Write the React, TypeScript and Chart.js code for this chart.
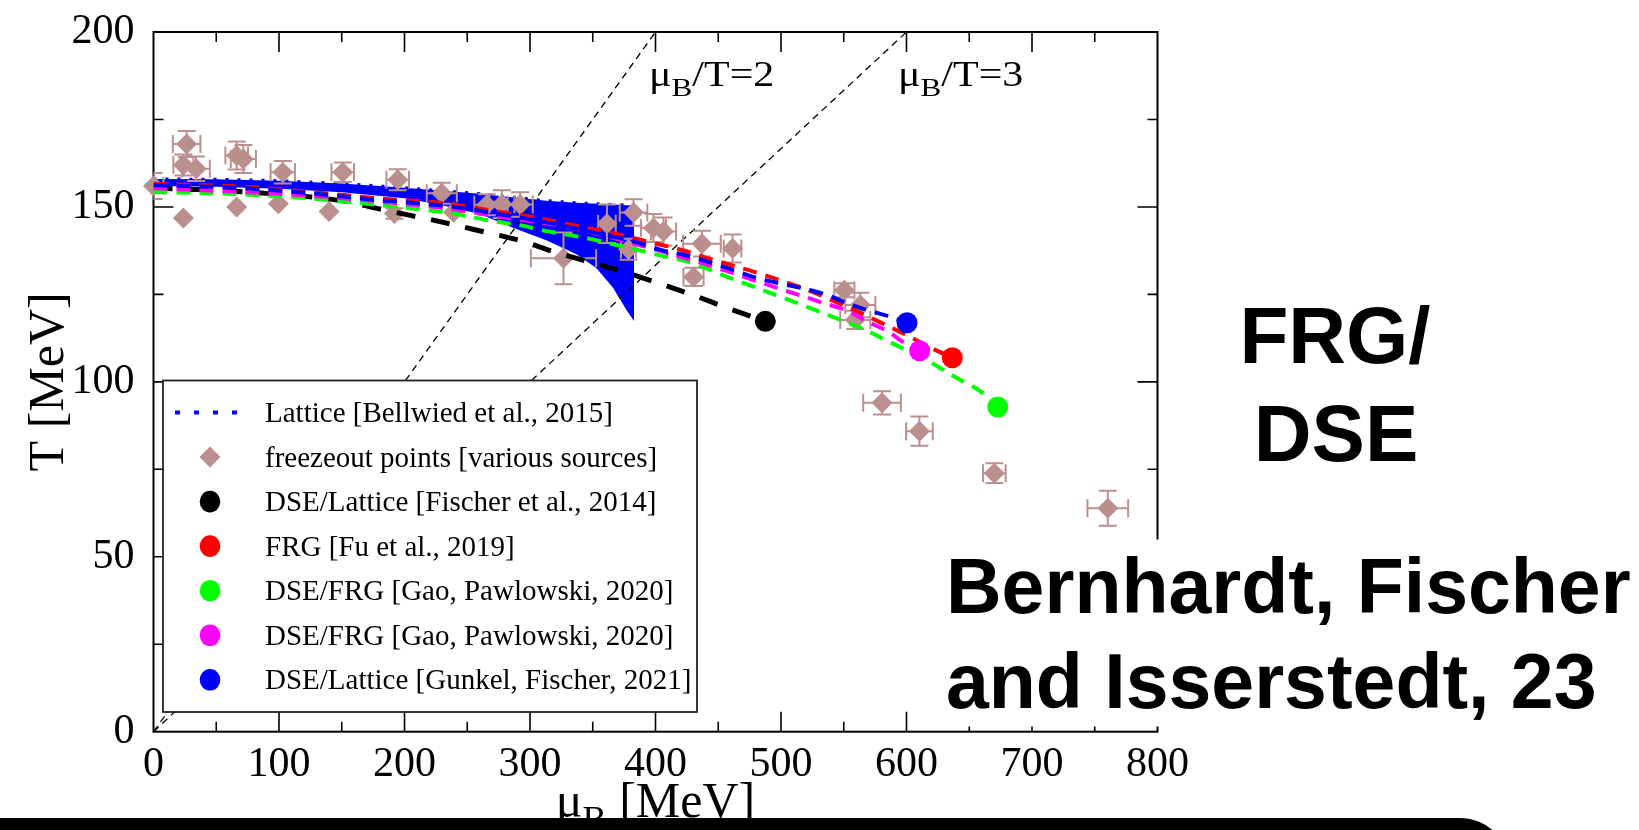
import React, { useEffect, useRef } from 'react';
import { Chart, registerables } from 'chart.js';

Chart.register(...registerables);

const W = 1639;
const H = 830;

// ---------- data ----------
// Lattice band [Bellwied et al., 2015]
const bandMu = [0, 50, 100, 150, 200, 230, 260, 287, 313, 337, 353, 366, 377, 383];
const bandUpper = [158.0, 157.9, 157.5, 156.7, 155.5, 154.6, 153.8, 152.7, 151.8, 151.2, 150.9, 150.7, 150.5, 150.4];
const bandLower = [156.0, 155.8, 155.2, 154.2, 152.5, 150.5, 148.0, 144.0, 140.5, 136.5, 132.5, 127.0, 120.5, 117.3];

// DSE/Lattice [Fischer et al., 2014]
const fischerMu = [0, 32, 92, 153, 179, 236, 263, 291, 319, 374, 430, 458, 487.5];
const fischerT = [155.4, 155.0, 153.8, 151.6, 149.5, 145.2, 142.9, 140.5, 137.2, 131.5, 124.8, 121.0, 117.3];

// FRG [Fu et al., 2019]
const fuMu = [0, 64, 122, 178, 235, 274, 310, 329, 349, 368, 387, 405, 424, 442, 460, 478, 518, 537, 567, 586, 600, 619, 636.5];
const fuT = [156.6, 155.9, 154.4, 152.5, 150.9, 148.7, 146.6, 145.2, 143.8, 142.4, 140.7, 139.1, 137.4, 135.3, 133.4, 131.5, 126.7, 123.9, 119.1, 115.8, 113.4, 109.8, 106.9];

// DSE/FRG [Gao, Pawlowski, 2020] (green)
const gaoGreenMu = [0, 24, 64, 122, 178, 235, 271, 292, 310, 329, 349, 368, 387, 405, 424, 442, 460, 478, 496, 534, 551, 567, 583, 602, 620, 640, 659, 672.7];
const gaoGreenT = [154.3, 154.1, 153.7, 152.5, 150.6, 148.3, 145.9, 144.8, 143.3, 142.1, 140.8, 139.2, 137.6, 136.0, 134.5, 132.2, 129.6, 127.2, 124.8, 119.6, 117.2, 114.9, 112.0, 108.7, 105.4, 101.1, 97.3, 92.8];

// DSE/FRG [Gao, Pawlowski, 2020] (magenta)
const gaoMagMu = [0, 24, 64, 122, 178, 235, 290, 310, 349, 387, 424, 442, 478, 494, 535, 553, 569, 585, 599, 610.5];
const gaoMagT = [155.4, 155.0, 154.4, 153.3, 151.6, 149.5, 146.4, 145.5, 142.7, 139.1, 135.3, 133.4, 129.1, 127.2, 122.4, 120.3, 117.2, 114.4, 111.0, 108.9];

// DSE/Lattice [Gunkel, Fischer, 2021]
const gunkelMu = [0, 64, 122, 178, 235, 274, 310, 349, 387, 405, 424, 442, 460, 478, 537, 553, 569, 587, 600.4];
const gunkelT = [156.2, 155.5, 154.0, 152.0, 150.2, 148.0, 145.8, 142.8, 139.7, 137.6, 136.2, 134.3, 132.2, 130.0, 124.8, 122.4, 120.5, 118.6, 116.9];

// critical end points (black, red, green, magenta, blue)
const cepMu = [487.5, 636.5, 672.7, 610.5, 600.4];
const cepT = [117.3, 106.9, 92.8, 108.9, 116.9];
const cepColors = ['#000000', '#ff0000', '#00ff00', '#ff00ff', '#0000ff'];

// freeze-out points
const freezeMu = [0, 26.4, 23.8, 33.9, 23.8, 66.3, 71.6, 66.3, 103, 99.5, 150.8, 139.9, 194.6, 192, 229.7, 239, 265.6, 277.6, 292.2, 326.7, 361.3, 382.5, 378.5, 398.4, 406.4, 437, 461.4, 430.3, 550.5, 563.2, 559.2, 580.5, 610.3, 670, 760.4];
const freezeT = [156, 168, 162, 160.9, 146.8, 164.7, 163.7, 150, 159.9, 150.9, 159.9, 148.7, 157.8, 148.1, 153.9, 148.5, 150.6, 150.8, 150.7, 135.3, 145.2, 148.4, 137.9, 144, 143, 139.5, 138.1, 130, 126.2, 122, 117.7, 94, 85.9, 73.9, 63.9];
const freezeMuErr = [8, 11, 8, 11, 0, 9, 10, 0, 9.7, 0, 9, 0, 9, 0, 12, 0, 10, 10, 10, 26, 7, 11, 6, 10, 10, 15, 7, 8, 8, 12, 12, 15, 10.6, 9, 16.2];
const freezeTErr = [3.7, 3.7, 3, 3.5, 0, 4, 4, 0, 3.2, 0, 2.8, 0, 3, 1.5, 3, 0, 3, 4, 3.5, 7.4, 5.5, 3.8, 3, 4, 4, 3.7, 4, 2.6, 2, 3.5, 2.6, 3.3, 4.2, 2.8, 5];

// μB/T = const reference lines
const ratioValues = [2, 3];

// ticks
const xTickValues = [0, 100, 200, 300, 400, 500, 600, 700, 800];
const yTickValues = [0, 50, 100, 150, 200];
const xMinorStep = 50;
const yMinorStep = 25;

// legend
const legendLabels = [
  'Lattice [Bellwied et al., 2015]',
  'freezeout points [various sources]',
  'DSE/Lattice [Fischer et al., 2014]',
  'FRG [Fu et al., 2019]',
  'DSE/FRG [Gao, Pawlowski, 2020]',
  'DSE/FRG [Gao, Pawlowski, 2020]',
  'DSE/Lattice [Gunkel, Fischer, 2021]',
];
const legendKinds = ['dots', 'diamond', 'circle', 'circle', 'circle', 'circle', 'circle'];
const legendColors = ['#0000ff', '#bc8f8f', '#000000', '#ff0000', '#00ff00', '#ff00ff', '#0000ff'];

const xTitleRest = ' [MeV]';
const yTitle = 'T [MeV]';
const sideTitle = ['FRG/', 'DSE'];
const creditLines = ['Bernhardt, Fischer', 'and Isserstedt, 23'];

// ---------- styles ----------
const FREEZE = '#bc8f8f';
const SERIF = '"Liberation Serif", "Times New Roman", serif';
const SANS = '"Liberation Sans", Arial, sans-serif';

const pts = (xs: number[], ys: number[]) => xs.map((x, i) => ({ x, y: ys[i] }));

function drawMuB(ctx: CanvasRenderingContext2D, x: number, base: number, size: number, sub: number, drop: number, rest: string, measureOnly = false) {
  ctx.font = `${size}px ${SERIF}`;
  const w1 = ctx.measureText('μ').width;
  ctx.font = `${sub}px ${SERIF}`;
  const w2 = ctx.measureText('B').width;
  ctx.font = `${size}px ${SERIF}`;
  const w3 = ctx.measureText(rest).width;
  if (measureOnly) return w1 + w2 + w3;
  ctx.textAlign = 'left';
  ctx.textBaseline = 'alphabetic';
  ctx.font = `${size}px ${SERIF}`;
  ctx.fillText('μ', x, base);
  ctx.font = `${sub}px ${SERIF}`;
  ctx.fillText('B', x + w1, base + drop);
  ctx.font = `${size}px ${SERIF}`;
  ctx.fillText(rest, x + w1 + w2, base);
  return w1 + w2 + w3;
}

const framePlugin = {
  id: 'frameTicks',
  beforeDatasetsDraw(chart: any) {
    const { ctx, chartArea: a, scales } = chart;
    const xs = scales.x;
    const ys = scales.y;
    ctx.save();
    ctx.strokeStyle = '#000';
    ctx.lineWidth = 2;
    ctx.strokeRect(a.left, a.top, a.right - a.left, a.bottom - a.top);
    ctx.lineWidth = 1.6;
    ctx.beginPath();
    for (let v = xMinorStep; v < 800; v += xMinorStep) {
      const p = xs.getPixelForValue(v);
      const len = v % 100 === 0 ? 20 : 10;
      ctx.moveTo(p, a.bottom); ctx.lineTo(p, a.bottom - len);
      ctx.moveTo(p, a.top); ctx.lineTo(p, a.top + len);
    }
    for (let v = yMinorStep; v < 200; v += yMinorStep) {
      const p = ys.getPixelForValue(v);
      const len = v % 50 === 0 ? 20 : 10;
      ctx.moveTo(a.left, p); ctx.lineTo(a.left + len, p);
      ctx.moveTo(a.right, p); ctx.lineTo(a.right - len, p);
    }
    ctx.stroke();
    ctx.restore();
  },
  beforeDatasetDraw(chart: any, args: any) {
    const ds = chart.data.datasets[args.index];
    if (ds.label !== legendLabels[1]) return;
    const { ctx, chartArea: a, scales } = chart;
    const xs = scales.x;
    const ys = scales.y;
    ctx.save();
    ctx.beginPath();
    ctx.rect(a.left, a.top, a.right - a.left, a.bottom - a.top);
    ctx.clip();
    ctx.strokeStyle = FREEZE;
    ctx.lineWidth = 2;
    const cap = 9;
    ctx.beginPath();
    freezeMu.forEach((m, i) => {
      const px = xs.getPixelForValue(m);
      const py = ys.getPixelForValue(freezeT[i]);
      const dm = freezeMuErr[i];
      const dt = freezeTErr[i];
      if (dm > 0) {
        const x1 = xs.getPixelForValue(m - dm);
        const x2 = xs.getPixelForValue(m + dm);
        ctx.moveTo(x1, py); ctx.lineTo(x2, py);
        ctx.moveTo(x1, py - cap); ctx.lineTo(x1, py + cap);
        ctx.moveTo(x2, py - cap); ctx.lineTo(x2, py + cap);
      }
      if (dt > 0) {
        const y1 = ys.getPixelForValue(freezeT[i] - dt);
        const y2 = ys.getPixelForValue(freezeT[i] + dt);
        ctx.moveTo(px, y1); ctx.lineTo(px, y2);
        ctx.moveTo(px - cap, y1); ctx.lineTo(px + cap, y1);
        ctx.moveTo(px - cap, y2); ctx.lineTo(px + cap, y2);
      }
    });
    ctx.stroke();
    ctx.restore();
  },
  afterDatasetsDraw(chart: any) {
    const { ctx } = chart;
    // legend box
    const L = 163, T = 380.5, R = 697, B = 712;
    ctx.save();
    ctx.fillStyle = '#fff';
    ctx.fillRect(L, T, R - L, B - T);
    ctx.strokeStyle = '#222';
    ctx.lineWidth = 1.8;
    ctx.strokeRect(L, T, R - L, B - T);
    const row0 = 412.5;
    const step = 44.55;
    legendLabels.forEach((lab, i) => {
      const cy = row0 + i * step;
      const col = legendColors[i];
      const kind = legendKinds[i];
      if (kind === 'dots') {
        ctx.strokeStyle = col;
        ctx.lineWidth = 4;
        ctx.setLineDash([5, 14]);
        ctx.beginPath();
        ctx.moveTo(175, cy); ctx.lineTo(238, cy);
        ctx.stroke();
        ctx.setLineDash([]);
      } else if (kind === 'diamond') {
        ctx.fillStyle = col;
        ctx.beginPath();
        ctx.moveTo(210, cy - 10.5); ctx.lineTo(220.5, cy); ctx.lineTo(210, cy + 10.5); ctx.lineTo(199.5, cy);
        ctx.closePath();
        ctx.fill();
      } else {
        ctx.fillStyle = col;
        ctx.beginPath();
        ctx.ellipse(210, cy, 10.3, 10.8, 0, 0, Math.PI * 2);
        ctx.fill();
      }
      ctx.fillStyle = '#000';
      ctx.font = `29px ${SERIF}`;
      ctx.textAlign = 'left';
      ctx.textBaseline = 'alphabetic';
      ctx.fillText(lab, 265, cy + 9.5);
    });
    ctx.restore();
  },
  afterDraw(chart: any) {
    const { ctx, chartArea: a } = chart;
    ctx.save();
    ctx.fillStyle = '#000';
    // μB/T labels (slightly wide type as in the original)
    [649, 898].forEach((lx, i) => {
      ctx.save();
      ctx.translate(lx, 86);
      ctx.scale(1.2, 1);
      drawMuB(ctx, 0, 0, 35, 26, 10, '/T=' + ratioValues[i]);
      ctx.restore();
    });
    // x title
    const cx = (a.left + a.right) / 2;
    const tw = drawMuB(ctx, 0, 0, 50, 36, 14, xTitleRest, true) as number;
    drawMuB(ctx, cx - tw / 2, 817, 50, 36, 14, xTitleRest);
    // y title
    ctx.save();
    ctx.translate(63, (a.top + a.bottom) / 2);
    ctx.rotate(-Math.PI / 2);
    ctx.font = `50px ${SERIF}`;
    ctx.textAlign = 'center';
    ctx.textBaseline = 'alphabetic';
    ctx.fillText(yTitle, 0, 0);
    ctx.restore();
    // white box for credit
    ctx.fillStyle = '#fff';
    ctx.fillRect(935, 539.5, W - 935, 187);
    ctx.fillStyle = '#000';
    ctx.font = `bold 80px ${SANS}`;
    ctx.textAlign = 'center';
    ctx.textBaseline = 'alphabetic';
    ctx.fillText(sideTitle[0], 1335, 363);
    ctx.fillText(sideTitle[1], 1336, 461);
    ctx.font = `bold 77px ${SANS}`;
    ctx.textAlign = 'left';
    ctx.fillText(creditLines[0], 946, 613);
    ctx.fillText(creditLines[1], 946, 708);
    // black band at the bottom
    ctx.fillStyle = '#000';
    const top = 818, right = 1510, r = 50;
    ctx.beginPath();
    ctx.moveTo(0, top);
    ctx.lineTo(right - r, top);
    ctx.arc(right - r, top + r, r, -Math.PI / 2, 0);
    ctx.lineTo(right, H + 10);
    ctx.lineTo(0, H + 10);
    ctx.closePath();
    ctx.fill();
    ctx.restore();
  },
};

export default function App() {
  const ref = useRef<HTMLCanvasElement>(null);
  useEffect(() => {
    const canvas = ref.current;
    if (!canvas) return;
    const curve = (label: string, xs: number[], ys: number[], color: string, width: number, dash: number[], order: number) => ({
      label,
      data: pts(xs, ys),
      borderColor: color,
      backgroundColor: color,
      borderWidth: width,
      borderDash: dash,
      borderCapStyle: 'butt',
      pointRadius: 0,
      fill: false,
      cubicInterpolationMode: 'monotone',
      order,
    });
    const datasets: any[] = [
      {
        label: 'band-upper',
        data: pts(bandMu, bandUpper),
        borderColor: '#0000ff',
        borderWidth: 3,
        borderDash: [3, 9],
        pointRadius: 0,
        fill: false,
        order: 20,
      },
      {
        label: legendLabels[0],
        data: pts(bandMu, bandLower),
        borderWidth: 0,
        borderColor: '#0000ff',
        backgroundColor: '#0000ff',
        pointRadius: 0,
        fill: '-1',
        order: 19,
      },
      ...ratioValues.map((r) => ({
        label: 'ratio' + r,
        data: [{ x: 0, y: 0 }, { x: 200 * r, y: 200 }],
        borderColor: '#000',
        borderWidth: 1.3,
        borderDash: [7, 5],
        pointRadius: 0,
        fill: false,
        order: 18,
      })),
      {
        label: legendLabels[1],
        data: pts(freezeMu, freezeT),
        showLine: false,
        pointStyle: 'rectRot',
        pointRadius: 10.5,
        pointHoverRadius: 10.5,
        pointBackgroundColor: FREEZE,
        pointBorderWidth: 0,
        borderWidth: 0,
        clip: false,
        order: 15,
      },
      curve(legendLabels[2], fischerMu, fischerT, '#000000', 5, [19, 16], 10),
      curve(legendLabels[3], fuMu, fuT, '#ff0000', 4, [14, 9], 9),
      curve(legendLabels[4], gaoGreenMu, gaoGreenT, '#00ff00', 4, [14, 9], 8),
      curve(legendLabels[5], gaoMagMu, gaoMagT, '#ff00ff', 4, [14, 9], 7),
      curve(legendLabels[6], gunkelMu, gunkelT, '#0000ff', 4, [14, 9], 6),
      {
        label: 'cep',
        data: pts(cepMu, cepT),
        showLine: false,
        pointStyle: 'circle',
        pointRadius: 10.5,
        pointHoverRadius: 10.5,
        pointBackgroundColor: cepColors,
        pointBorderWidth: 0,
        borderWidth: 0,
        clip: false,
        order: 1,
      },
    ];
    const tickFont = { family: SERIF, size: 42, lineHeight: 1 };
    const chart = new Chart(canvas, {
      type: 'line',
      data: { datasets },
      options: {
        animation: false,
        responsive: false,
        devicePixelRatio: 1,
        events: [],
        layout: { padding: { left: 0, top: 29.3, right: W - 1157.5, bottom: H - 731.7 - 60 } },
        plugins: { legend: { display: false }, tooltip: { enabled: false } },
        scales: {
          x: {
            type: 'linear',
            min: 0,
            max: 800,
            grid: { display: false },
            border: { display: false },
            afterFit: (s: any) => { s.height = 60; },
            afterBuildTicks: (s: any) => { s.ticks = xTickValues.map((v) => ({ value: v })); },
            ticks: { font: tickFont, color: '#000', padding: 4, maxRotation: 0, autoSkip: false },
          },
          y: {
            type: 'linear',
            min: 0,
            max: 200,
            grid: { display: false },
            border: { display: false },
            afterFit: (s: any) => { s.width = 153.5; },
            afterBuildTicks: (s: any) => { s.ticks = yTickValues.map((v) => ({ value: v })); },
            ticks: { font: tickFont, color: '#000', padding: 11, autoSkip: false },
          },
        },
      } as any,
      plugins: [framePlugin],
    });
    return () => chart.destroy();
  }, []);
  return (
    <div style={{ position: 'fixed', left: 0, top: 0, width: W, height: H, background: '#fff', overflow: 'hidden' }}>
      <canvas ref={ref} width={W} height={H} style={{ width: W, height: H, display: 'block' }} />
    </div>
  );
}
